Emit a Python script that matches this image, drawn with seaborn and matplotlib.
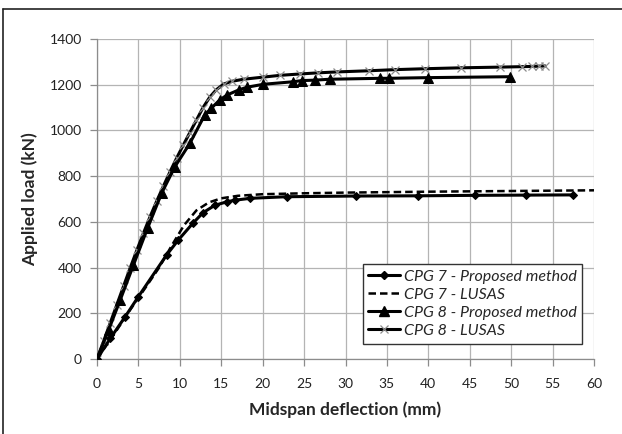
import matplotlib
matplotlib.use("Agg")
import matplotlib.pyplot as plt
from matplotlib.lines import Line2D
import seaborn as sns
import pandas as pd

# CPG 7 - proposed method
cpg7_prop_x = [0, 1.6, 3.4, 5.0, 8.4, 9.8, 11.6, 12.8, 14.2, 15.7, 16.7, 18.5, 22.9,
               31.3, 38.8, 45.6, 51.8, 57.5]
cpg7_prop_y = [0, 90, 185, 273, 455, 520, 595, 640, 672, 688, 695, 703, 710,
               713, 714, 716, 717, 718]

# CPG 7 - LUSAS
cpg7_lusas_x = [0, 2, 4, 6, 7.5, 9, 10.5, 12, 13.5, 15, 17, 20, 25, 30, 40, 50, 60]
cpg7_lusas_y = [0, 105, 215, 320, 400, 495, 585, 650, 685, 703, 714, 721, 725, 728,
                732, 735, 738]

# CPG 8 - proposed method
cpg8_prop_x = [0, 1.4, 2.8, 4.4, 6.1, 7.8, 9.4, 11.2, 13.0, 13.8, 14.8, 15.7, 17.1,
               18.1, 20.1, 23.7, 24.7, 26.3, 28.1, 34.2, 35.2, 40.0, 49.9]
cpg8_prop_y = [0, 127, 258, 411, 572, 725, 841, 943, 1067, 1097, 1133, 1155, 1177,
               1189, 1202, 1213, 1218, 1220, 1224, 1228, 1228, 1231, 1235]

# CPG 8 - LUSAS
cpg8_lusas_x = [0, 0.8, 1.6, 2.4, 3.2, 4.0, 4.8, 5.6, 6.4, 7.2, 8.0, 8.8, 9.6, 10.4,
                11.2, 12.0, 12.8, 13.6, 14.4, 15.3, 16.3, 17.7, 20.0, 22.1, 24.5,
                26.7, 29.0, 32.8, 36.0, 39.6, 44.0, 48.7, 51.3, 52.5, 53.3, 54.1]
cpg8_lusas_y = [0, 78, 158, 238, 318, 398, 475, 550, 622, 690, 755, 818, 878, 935,
                990, 1045, 1100, 1145, 1178, 1203, 1215, 1224, 1233, 1241, 1247,
                1252, 1256, 1261, 1266, 1270, 1274, 1277, 1279, 1280, 1281, 1282]

x_ticks = list(range(0, 61, 5))
y_ticks = list(range(0, 1401, 200))

sns.set_theme(style="white")
plt.rcParams["font.family"] = ["Lato", "DejaVu Sans"]

fig = plt.figure(figsize=(6.22, 4.34), dpi=100)
ax = fig.add_axes([97 / 622, 75 / 434, 497 / 622, 320 / 434])

df7p = pd.DataFrame({"x": cpg7_prop_x, "y": cpg7_prop_y})
df7l = pd.DataFrame({"x": cpg7_lusas_x, "y": cpg7_lusas_y})
df8p = pd.DataFrame({"x": cpg8_prop_x, "y": cpg8_prop_y})
df8l = pd.DataFrame({"x": cpg8_lusas_x, "y": cpg8_lusas_y})

sns.lineplot(data=df8l, x="x", y="y", ax=ax, color="black", lw=2.2, sort=False,
             marker="x", markersize=6, markeredgecolor="#8c8c8c",
             markeredgewidth=0.9, zorder=3)
sns.lineplot(data=df8p, x="x", y="y", ax=ax, color="black", lw=2.2, sort=False,
             marker="^", markersize=6.5, markeredgecolor="black", zorder=4)
sns.lineplot(data=df7l, x="x", y="y", ax=ax, color="black", lw=1.8, sort=False,
             linestyle=(0, (3.0, 1.6)), zorder=3)
sns.lineplot(data=df7p, x="x", y="y", ax=ax, color="black", lw=2.2, sort=False,
             marker="D", markersize=4.5, markeredgecolor="black", zorder=4)

ax.set_xlim(0, 60)
ax.set_ylim(0, 1400)
ax.set_xticks(x_ticks)
ax.set_yticks(y_ticks)
ax.set_xticklabels([str(t) for t in x_ticks])
ax.set_yticklabels([str(t) for t in y_ticks])
ax.grid(True, color="#b4b4b4", lw=0.9)
ax.set_axisbelow(True)

for side in ["top", "right"]:
    ax.spines[side].set_visible(False)
for side in ["left", "bottom"]:
    ax.spines[side].set_color("#8c8c8c")
    ax.spines[side].set_linewidth(0.9)

ax.tick_params(axis="both", which="major", length=5, width=0.9, color="#8c8c8c",
               direction="out", labelsize=10, labelcolor="#222222", pad=6,
               left=True, bottom=True)
ax.tick_params(axis="x", pad=9)

ax.set_xlabel("Midspan deflection (mm)", fontsize=12.5, fontweight="bold",
              labelpad=8)
ax.set_ylabel("Applied load (kN)", fontsize=12.5, fontweight="bold", labelpad=8)

handles = [
    Line2D([], [], color="black", lw=2.2, marker="D", markersize=4.5),
    Line2D([], [], color="black", lw=1.8, linestyle=(0, (3.0, 1.6))),
    Line2D([], [], color="black", lw=2.2, marker="^", markersize=6.5),
    Line2D([], [], color="black", lw=2.2, marker="x", markersize=6,
           markeredgecolor="#8c8c8c", markeredgewidth=0.9),
]
labels = ["CPG 7 - Proposed method", "CPG 7 - LUSAS",
          "CPG 8 - Proposed method", "CPG 8 - LUSAS"]
leg = ax.legend(handles, labels, loc="lower right", bbox_to_anchor=(0.976, 0.048),
                frameon=True, fancybox=False, framealpha=1, edgecolor="#333333",
                prop={"style": "italic", "size": 11.5}, handlelength=2.0,
                handletextpad=0.2, borderpad=0.35, labelspacing=0.25,
                borderaxespad=0)
leg.get_frame().set_linewidth(1.0)

# outer frame lines along the top and left edges
fig.add_artist(Line2D([3 / 622, 1.0], [1 - 9 / 434, 1 - 9 / 434],
                      transform=fig.transFigure, color="#222222", lw=1.2))
fig.add_artist(Line2D([3 / 622, 3 / 622], [0.0, 1 - 9 / 434],
                      transform=fig.transFigure, color="#222222", lw=1.2))

fig.savefig("out.png", dpi=100)
